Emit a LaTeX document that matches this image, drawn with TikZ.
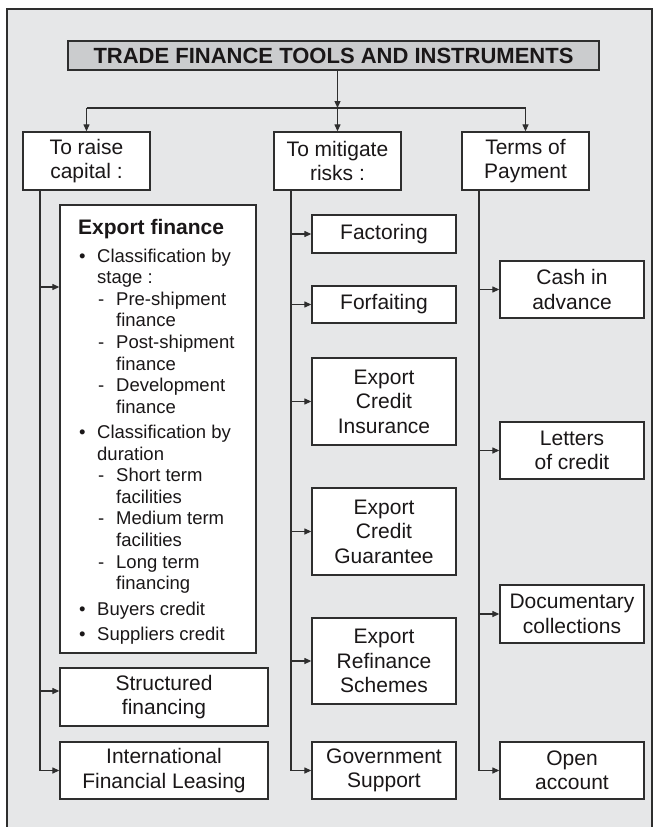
\documentclass[tikz,border=0pt]{standalone}
\usepackage{fontspec}
\setmainfont{Liberation Sans}
\usetikzlibrary{arrows.meta}
\definecolor{bg}{HTML}{E6E7E8}
\definecolor{titlefill}{HTML}{CBCCCE}
\definecolor{ink}{HTML}{1A1718}
\definecolor{linec}{HTML}{2E2E2E}
\begin{document}
\begin{tikzpicture}[x=1pt,y=-1pt,
 box/.style={draw=linec,line width=1.3pt,fill=white,inner sep=0pt,align=center,text=ink,font=\fontsize{21}{24.5}\selectfont},
 arr/.style={draw=linec,line width=1.2pt,-{Triangle[length=7pt,width=6pt]}},
 trunk/.style={draw=linec,line width=1.2pt},
 item/.style={anchor=base west,inner sep=0pt,text=ink,font=\fontsize{18.5}{21.6}\selectfont}]
\useasboundingbox (0,0) rectangle (653,827);
\fill[bg] (7,9) rectangle (653,827);
\draw[linec,line width=1.3pt] (7,827) -- (7,9) -- (652,9) -- (652,827);

% title
\node[box,fill=titlefill,minimum width=531pt,minimum height=29pt,font=\bfseries\fontsize{22}{24}\selectfont] (title) at (333.5,55.5) {TRADE FINANCE TOOLS AND INSTRUMENTS};

% level 1
\node[box,minimum width=127pt,minimum height=58pt] (raise) at (86.5,161) {To raise\\capital :};
\node[box,minimum width=127pt,minimum height=58pt] (mitigate) at (337.5,161) {To mitigate\\risks :};
\node[box,minimum width=127pt,minimum height=58pt] (terms) at (525.5,161) {Terms of\\Payment};

\coordinate (junc) at (337.5,108);
\draw[arr] (junc |- title.south) -- (junc);
\draw[trunk] (raise.north |- junc) -- (terms.north |- junc);
\draw[arr] (raise.north |- junc) -- (raise.north);
\draw[arr] (junc) -- (mitigate.north);
\draw[arr] (terms.north |- junc) -- (terms.north);

% left column
\node[box,minimum width=196pt,minimum height=448pt] (exp) at (158,429) {};
\node[box,minimum width=208pt,minimum height=58pt] (struct) at (164,697) {Structured\\financing};
\node[box,minimum width=208pt,minimum height=57pt] (ifl) at (164,770.5) {International\\Financial Leasing};

\coordinate (lt) at (40,0);
\coordinate (e1) at (40,287);
\coordinate (e2) at (40,691);
\draw[arr] (raise.south -| lt) |- (ifl.west);
\draw[arr] (e1) -- (e1 -| exp.west);
\draw[arr] (e2) -- (e2 -| struct.west);

% export finance contents
\node[anchor=base west,inner sep=0pt,text=ink,font=\bfseries\fontsize{21}{24}\selectfont] (eh) at (78,234) {Export finance};
\foreach \n/\y in {b1/262,b2/438.5,b3/615,b4/640}
  \node[item] (\n) at (79,\y) {•};
\foreach \n/\y in {d1/305.2,d2/348.4,d3/391.6,d4/481.7,d5/524.9,d6/568.1}
  \node[item] (\n) at (98,\y) {-};
\foreach \n/\y/\t in {t1/262/Classification by,t2/283.6/stage :,t3/438.5/Classification by,t4/460.1/duration,t5/615/Buyers credit,t6/640/Suppliers credit}
  \node[item] (\n) at (97,\y) {\t};
\foreach \n/\y/\t in {s1/305.2/Pre-shipment,s2/326.8/finance,s3/348.4/Post-shipment,s4/370/finance,s5/391.6/Development,s6/413.2/finance,s7/481.7/Short term,s8/503.3/facilities,s9/524.9/Medium term,s10/546.5/facilities,s11/568.1/Long term,s12/589.7/financing}
  \node[item] (\n) at (116,\y) {\t};

% middle column
\node[box,minimum width=144pt,minimum height=38pt] (fact) at (384,234) {Factoring};
\node[box,minimum width=144pt,minimum height=37pt] (forf) at (384,304.5) {Forfaiting};
\node[box,minimum width=144pt,minimum height=87pt] (eci) at (384,401.5) {Export\\Credit\\Insurance};
\node[box,minimum width=144pt,minimum height=87pt] (ecg) at (384,531.5) {Export\\Credit\\Guarantee};
\node[box,minimum width=144pt,minimum height=86pt] (ers) at (384,661) {Export\\Refinance\\Schemes};
\node[box,minimum width=144pt,minimum height=57pt] (gov) at (384,770.5) {Government\\Support};

\coordinate (mt) at (291,0);
\draw[arr] (mitigate.south -| mt) |- (gov.west);
\foreach \b in {fact,forf,eci,ecg,ers}
  \draw[arr] (mt |- \b.west) -- (\b.west);

% right column
\node[box,minimum width=144pt,minimum height=57pt] (cash) at (572,289.5) {Cash in\\advance};
\node[box,minimum width=144pt,minimum height=57pt] (loc) at (572,450.5) {Letters\\of credit};
\node[box,minimum width=144pt,minimum height=58pt] (doc) at (572,614) {Documentary\\collections};
\node[box,minimum width=144pt,minimum height=57pt] (open) at (572,770.5) {Open\\account};

\coordinate (rt) at (479,0);
\draw[arr] (terms.south -| rt) |- (open.west);
\foreach \b in {cash,loc,doc}
  \draw[arr] (rt |- \b.west) -- (\b.west);
\end{tikzpicture}
\end{document}
